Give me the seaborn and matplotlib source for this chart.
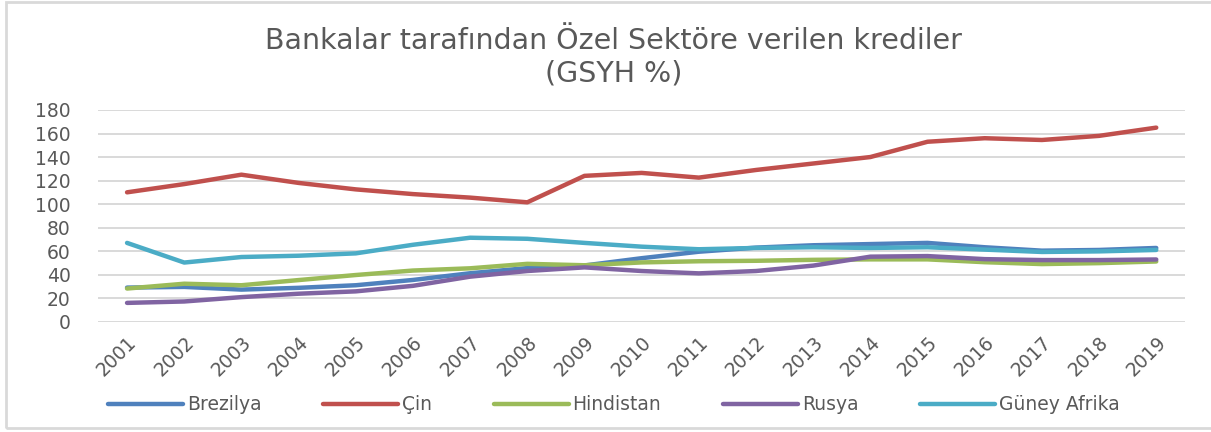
import pandas as pd
import matplotlib.pyplot as plt
import matplotlib.patches as mpatches
import seaborn as sns

# --- DATA ---
years = list(range(2001, 2020))
brezilya = [29, 29.6, 27.3, 28.8, 31, 35.5, 41.2, 45.6, 47.8, 54, 59.5, 63, 65, 66, 67, 63.3, 60.4, 61, 62.7]
cin = [110, 117, 125, 118, 112.5, 108.5, 105.5, 101.5, 124, 126.5, 122.5, 129, 134.5, 140, 153, 156, 154.5, 158, 165]
hindistan = [28.2, 32.3, 31, 35.4, 39.7, 43.5, 45.4, 49.2, 48, 50.4, 51.4, 51.8, 52.6, 53, 53, 50.6, 49, 49.8, 51.2]
rusya = [16, 17.2, 20.9, 23.8, 25.8, 30.5, 38.3, 43.1, 46.2, 43.1, 41.1, 43.1, 47.7, 55.3, 55.8, 53.2, 52.4, 52.4, 52.9]
guney_afrika = [67, 50.3, 55, 56.1, 58.1, 65.4, 71.4, 70.5, 67, 63.8, 61.6, 62.7, 63.3, 62.7, 63.3, 61.3, 59.3, 59.8, 61]

series = ["Brezilya", "Çin", "Hindistan", "Rusya", "Güney Afrika"]
colors = ["#4F81BD", "#C0504D", "#9BBB59", "#8064A2", "#4BACC6"]

data = pd.DataFrame({"Yıl": years, "Brezilya": brezilya, "Çin": cin,
                     "Hindistan": hindistan, "Rusya": rusya, "Güney Afrika": guney_afrika})
long = data.melt(id_vars="Yıl", var_name="Ülke", value_name="Değer")

# --- STYLE ---
sns.set_style("white")
plt.rcParams['font.family'] = ['DejaVu Sans']
gray = "#595959"

fig = plt.figure(figsize=(12.11, 4.32), dpi=100)
ax = fig.add_axes([0.0813, 0.2553, 0.8971, 0.4901])

sns.lineplot(data=long, x="Yıl", y="Değer", hue="Ülke", hue_order=series,
             palette=colors, linewidth=3.2, ax=ax, legend=True)

ax.set_xlim(2000.5, 2019.5)
ax.set_ylim(0, 180)
ax.set_yticks(range(0, 181, 20))
ax.set_xticks(years)
ax.set_xticklabels([str(y) for y in years], rotation=45, ha='right', rotation_mode='anchor')
ax.tick_params(axis='y', length=0, pad=20, labelsize=13.5, labelcolor=gray)
ax.tick_params(axis='x', length=0, pad=8, labelsize=13.5, labelcolor=gray)
ax.yaxis.grid(True, color="#D9D9D9", linewidth=1.4)
ax.set_axisbelow(True)
for s in ax.spines.values():
    s.set_visible(False)
ax.set_xlabel("")
ax.set_ylabel("")

# legend at bottom
handles, labels = ax.get_legend_handles_labels()
ax.legend_.remove()
leg = fig.legend(handles, labels, loc='center', bbox_to_anchor=(0.507, 0.063), ncol=5,
                 frameon=False, handlelength=4.0, handletextpad=0.2, columnspacing=3.3,
                 fontsize=13.5)
for t in leg.get_texts():
    t.set_color(gray)
for h in leg.legend_handles:
    h.set_linewidth(3.2)

# title
fig.text(0.507, 0.868, "Bankalar tarafından Özel Sektöre verilen krediler\n(GSYH %)",
         ha='center', va='center', fontsize=20.5, color=gray, linespacing=1.2)

# outer border
fig.patches.append(mpatches.Rectangle((0.005, 0.009), 1.2, 0.986, transform=fig.transFigure,
                                      fill=False, edgecolor="#D9D9D9", linewidth=2))

plt.savefig("out.png", dpi=100)
plt.close()
